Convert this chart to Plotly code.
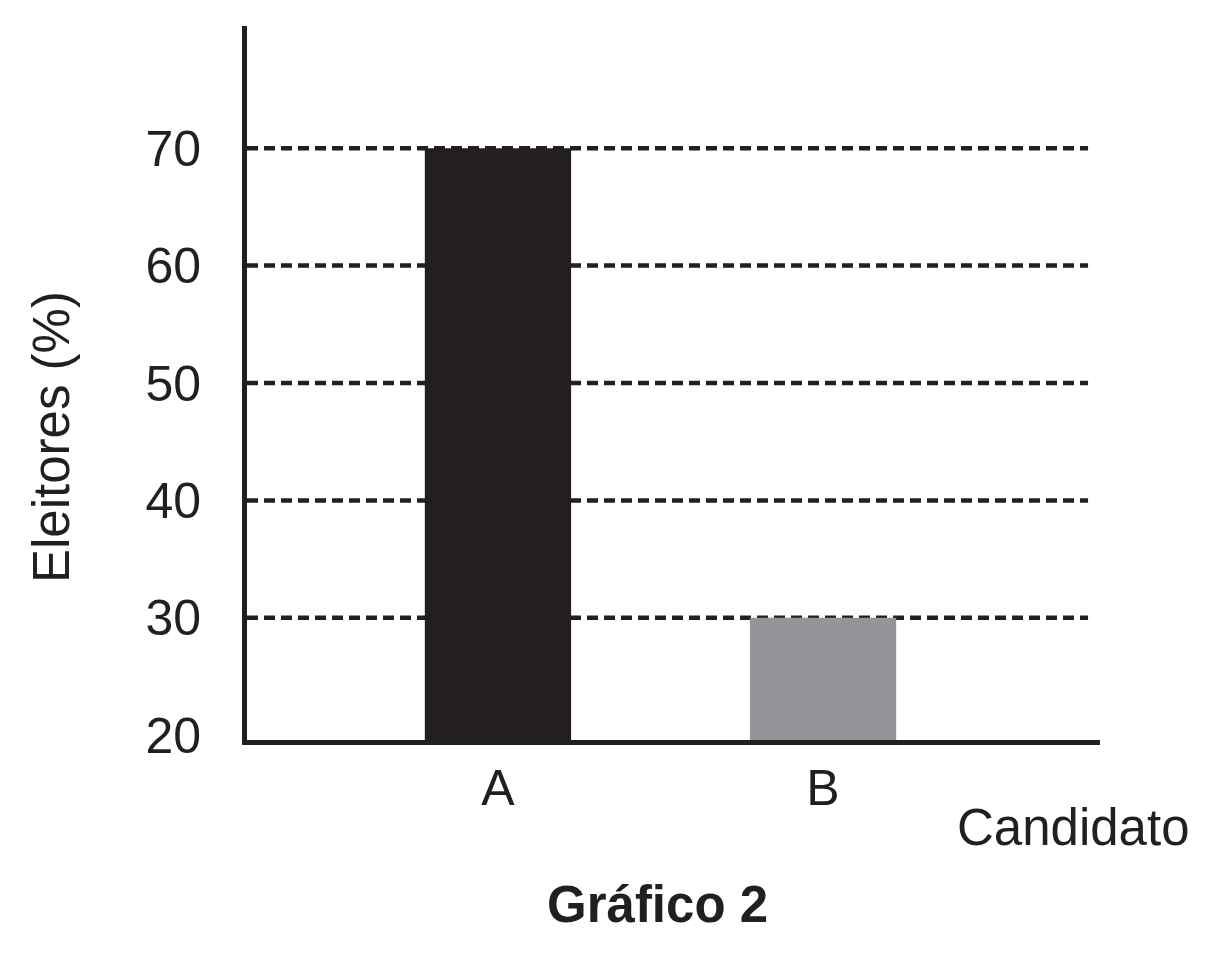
import plotly.graph_objects as go

# Data
candidates = ["A", "B"]
voters_pct = [70, 30]
bar_colors = ["#231f20", "#939598"]
y_ticks = [20, 30, 40, 50, 60, 70]
grid_values = [30, 40, 50, 60, 70]

ink = "#231f20"
font_family = "Liberation Sans, Arial, sans-serif"

fig = go.Figure()
fig.add_trace(go.Bar(
    x=candidates,
    y=voters_pct,
    width=0.45,
    marker=dict(color=bar_colors, line=dict(width=0)),
    showlegend=False,
))

# dashed guide lines (none at 20), drawn under the bars
for v in grid_values:
    fig.add_shape(type="line", xref="paper", yref="y",
                  x0=0, x1=0.986, y0=v, y1=v, layer="below",
                  line=dict(color=ink, width=4.5, dash="11px,6px"))

fig.update_layout(
    width=1220,
    height=960,
    margin=dict(l=239, r=128, t=18, b=228),
    plot_bgcolor="white",
    paper_bgcolor="white",
    font=dict(family=font_family, size=50, color=ink),
    xaxis=dict(
        range=[-0.772, 1.852],
        showline=True, linecolor=ink, linewidth=5,
        showgrid=False, zeroline=False,
        ticks="",
        tickfont=dict(size=50),
    ),
    yaxis=dict(
        range=[19.6, 80.4],
        tickvals=y_ticks,
        showline=True, linecolor=ink, linewidth=5,
        showgrid=False, zeroline=False,
        ticks="outside", ticklen=31, tickcolor="rgba(0,0,0,0)",
        tickfont=dict(size=50),
    ),
)

fig.add_annotation(text="Eleitores (%)", xref="paper", yref="paper",
                   x=-0.2286, y=0.4244, xanchor="center", yanchor="middle",
                   textangle=-90, showarrow=False,
                   font=dict(size=51, color=ink))
fig.add_annotation(text="Candidato", xref="paper", yref="paper",
                   x=0.9695, y=-0.123, xanchor="center", yanchor="middle",
                   showarrow=False, font=dict(size=51, color=ink))
fig.add_annotation(text="<b>Gráfico 2</b>", xref="paper", yref="paper",
                   x=0.481, y=-0.231, xanchor="center", yanchor="middle",
                   showarrow=False, font=dict(size=51, color=ink))

fig.write_html("out.html")
